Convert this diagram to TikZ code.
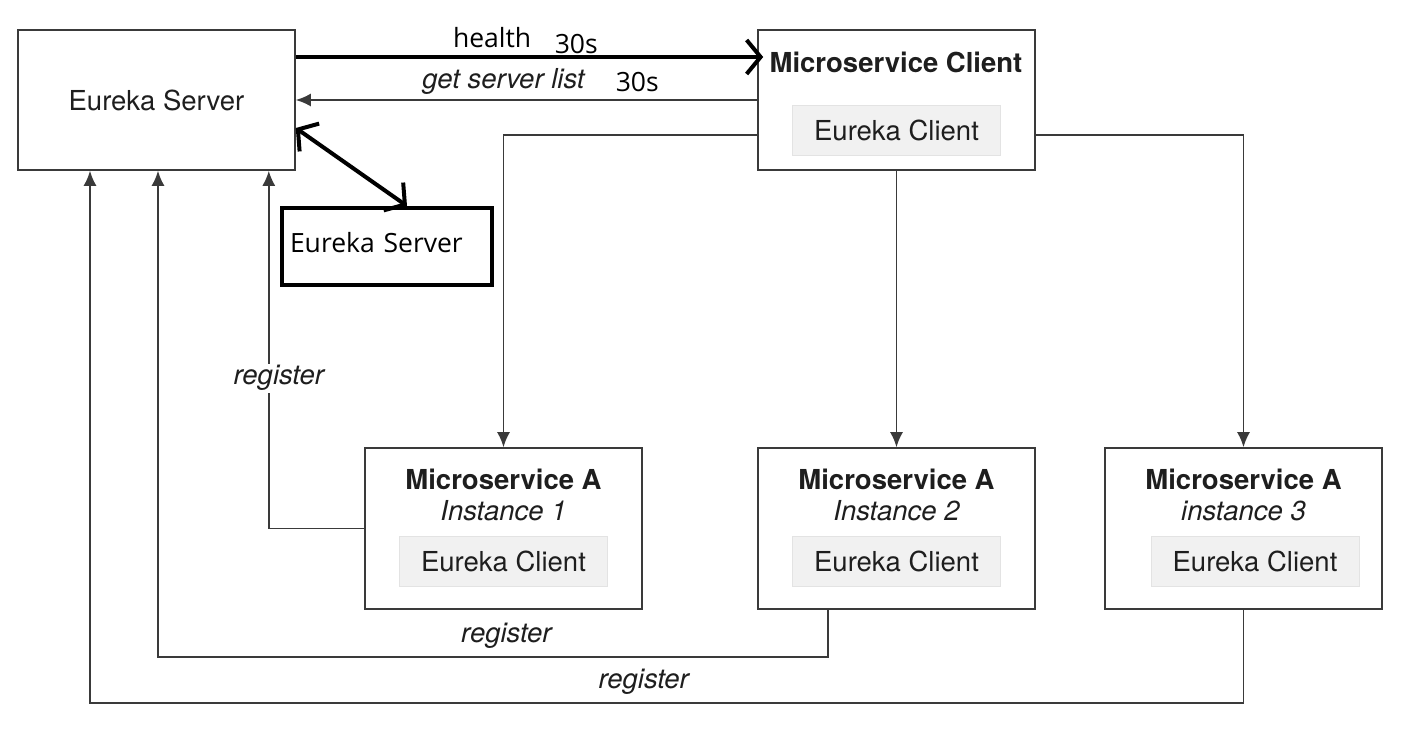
\documentclass[tikz,border=0pt]{standalone}
\usepackage{fontspec}
\setmainfont{TeX Gyre Heros}
\newfontfamily\handfont{Open Sans}
\usetikzlibrary{arrows.meta}
\definecolor{linegray}{HTML}{3A3A3A}
\definecolor{textgray}{HTML}{1E1E1E}
\definecolor{clientfill}{HTML}{F1F1F1}
\definecolor{clientdraw}{HTML}{E3E3E3}

\begin{document}
\begin{tikzpicture}[x=1pt,y=-1pt,
   font=\fontsize{27.5}{33}\selectfont,text=textgray,
   box/.style={draw=linegray,line width=1.6pt,minimum width=277pt,minimum height=140pt,inner sep=0pt},
   instbox/.style={box,minimum height=161pt},
   client/.style={fill=clientfill,draw=clientdraw,line width=0.8pt,minimum width=208pt,minimum height=50pt,inner sep=0pt},
   title/.style={font=\fontsize{27.5}{33}\selectfont\bfseries,inner sep=0pt},
   sub/.style={font=\fontsize{27.5}{33}\selectfont\itshape,inner sep=0pt},
   lbl/.style={font=\fontsize{27.5}{33}\selectfont\itshape,inner sep=2pt},
   flow/.style={draw=linegray,line width=1.8pt,-{Latex[length=15pt,width=13pt]}},
   hand/.style={font=\handfont\fontsize{26.5}{32}\selectfont,text=black,inner sep=1pt},
   pen/.style={draw=black,line width=4pt},
   barb/.tip={Straight Barb[length=14pt,width=34pt]}]
   \fill[white] (0,0) rectangle (1405,746);
   \useasboundingbox (0,0) rectangle (1405,746);

   % servers and the client
   \node[box] (srv) at (156.5,100) {Eureka Server};
   \node[box] (cli) at (896.5,100) {};
   \node[title] (clit) at (896,62) {Microservice Client};
   \node[client] (clie) at (896.5,130) {Eureka Client};

   % instances
   \foreach \i/\x/\dx/\s in {1/503.5/0/Instance 1,2/896.5/0/Instance 2,3/1243.5/11.5/instance 3}{
      \node[instbox] (ms\i) at (\x,528.5) {};
      \node[title] (mst\i) at (\x,479) {Microservice A};
      \node[sub] (mss\i) at (\x,511) {\s};
      \node[client] (mse\i) at (\x+\dx,561) {Eureka Client};
   }

   % hand-drawn note
   \node[pen,hand,minimum width=210pt,minimum height=77pt,text width=194pt,
         align=left,inner sep=0pt,text depth=8pt] (ann) at (387,246.5) {Eureka Server};

   % connectors
   \path[flow] ([yshift=-35pt]cli.west) -| (ms1.north);
   \path[flow] (cli.south) -- (ms2.north);
   \path[flow] ([yshift=-35pt]cli.east) -| (ms3.north);
   \path[flow] (cli.west) -- node[lbl,pos=0.55,above=3pt]{get server list}
                            node[hand,pos=0.26,above=6pt]{30s} (srv.east);
   \path[flow] (ms1.west) -| node[lbl,pos=0.71,fill=white,xshift=10pt]{register}
                            ([xshift=-27pt]srv.south east);
   \path[flow] ([xshift=-68.5pt]ms2.south) -- ++(0,47)
                -| node[lbl,pos=0.24,above=5pt]{register} ([xshift=1.5pt]srv.south);
   \path[flow] (ms3.south) -- ++(0,93)
                -| node[lbl,pos=0.26,above=5pt]{register} ([xshift=-66.5pt]srv.south);

   % pen strokes
   \path[pen,-barb] ([yshift=43pt]srv.east) --
        node[hand,pos=0.42,above=6pt]{health}
        node[hand,pos=0.6,above=0pt]{30s} ([yshift=43pt,xshift=6pt]cli.west);
   \path[pen,barb-barb] ([xshift=20pt]ann.north) -- ([yshift=-28pt]srv.east);
\end{tikzpicture}
\end{document}
